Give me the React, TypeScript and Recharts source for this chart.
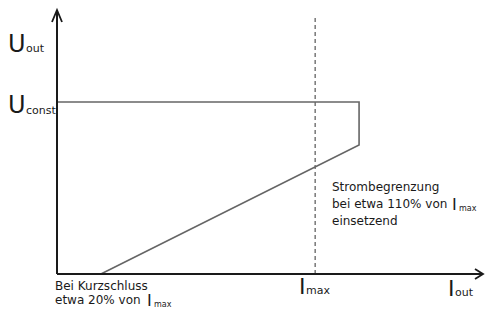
import React from 'react';
import { LineChart, Line, XAxis, YAxis, ReferenceLine } from 'recharts';

// current in % of Imax (sketch values), voltage in % of Uconst
const currents = [0, 117, 117, 17];
const voltages = [100, 100, 75, 0];
const iMax = 100;
const xMax = 165;
const yMax = 153.5;

const data = currents.map((i, k) => ({ i, u: voltages[k] }));

const W = 486;
const H = 309;
const FONT = '"DejaVu Sans", sans-serif';
const INK = '#1a1a1a';

function ArrowAxis(props: any) {
  const { x1, y1, x2, y2 } = props;
  const vertical = Math.abs(x1 - x2) < 1;
  const tipX = vertical ? x1 : Math.max(x1, x2);
  const tipY = vertical ? Math.min(y1, y2) : y1;
  const head = vertical
    ? `M${tipX - 5},${tipY + 12} L${tipX},${tipY} L${tipX + 5},${tipY + 12}`
    : `M${tipX - 8},${tipY - 5} L${tipX},${tipY} L${tipX - 8},${tipY + 5}`;
  return (
    <g>
      <line x1={x1} y1={y1} x2={x2} y2={y2} stroke={INK} strokeWidth={2} />
      <path d={head} fill="none" stroke={INK} strokeWidth={1.8} />
    </g>
  );
}

function Labels() {
  const big = { fontFamily: FONT, fill: INK };
  return (
    <svg width={W} height={H} style={{ position: 'absolute', left: 0, top: 0, pointerEvents: 'none' }}>
      <text x={8} y={52} fontSize={24} {...big}>U</text>
      <text x={26} y={52} fontSize={11} {...big}>out</text>
      <text x={8} y={113} fontSize={24} {...big}>U</text>
      <text x={26} y={114} fontSize={11} {...big}>const</text>

      <text x={332} y={191} fontSize={12} {...big}>Strombegrenzung</text>
      <text x={332} y={208} fontSize={12} {...big}>bei etwa 110% von</text>
      <text x={452} y={210} fontSize={16} {...big}>I</text>
      <text x={459} y={211} fontSize={8} {...big}>max</text>
      <text x={332} y={225} fontSize={12} {...big}>einsetzend</text>

      <text x={55} y={290} fontSize={12} {...big}>Bei Kurzschluss</text>
      <text x={55} y={304} fontSize={12} {...big}>etwa 20% von</text>
      <text x={147} y={306} fontSize={16} {...big}>I</text>
      <text x={154} y={307} fontSize={8} {...big}>max</text>

      <text x={299} y={294} fontSize={22} {...big}>I</text>
      <text x={306} y={294} fontSize={11} {...big}>max</text>
      <text x={448} y={296} fontSize={22} {...big}>I</text>
      <text x={455} y={296} fontSize={11} {...big}>out</text>
    </svg>
  );
}

export default function App() {
  return (
    <div style={{ position: 'absolute', left: 0, top: 0, width: W, height: H, background: '#fff' }}>
      <LineChart width={W} height={H} data={data} margin={{ top: 10, right: 3, bottom: 35, left: 57 }}>
        <XAxis type="number" dataKey="i" domain={[0, xMax]} hide />
        <YAxis type="number" domain={[0, yMax]} hide />
        <ReferenceLine
          segment={[{ x: iMax, y: 0 }, { x: iMax, y: 150 }]}
          stroke="#777"
          strokeWidth={1.5}
          strokeDasharray="4 3"
          ifOverflow="visible"
        />
        <Line
          type="linear"
          dataKey="u"
          stroke="#666"
          strokeWidth={1.6}
          dot={false}
          isAnimationActive={false}
        />
        <ReferenceLine segment={[{ x: 0, y: 0 }, { x: 0, y: yMax }]} shape={ArrowAxis} ifOverflow="visible" />
        <ReferenceLine segment={[{ x: 0, y: 0 }, { x: xMax, y: 0 }]} shape={ArrowAxis} ifOverflow="visible" />
      </LineChart>
      <Labels />
    </div>
  );
}
